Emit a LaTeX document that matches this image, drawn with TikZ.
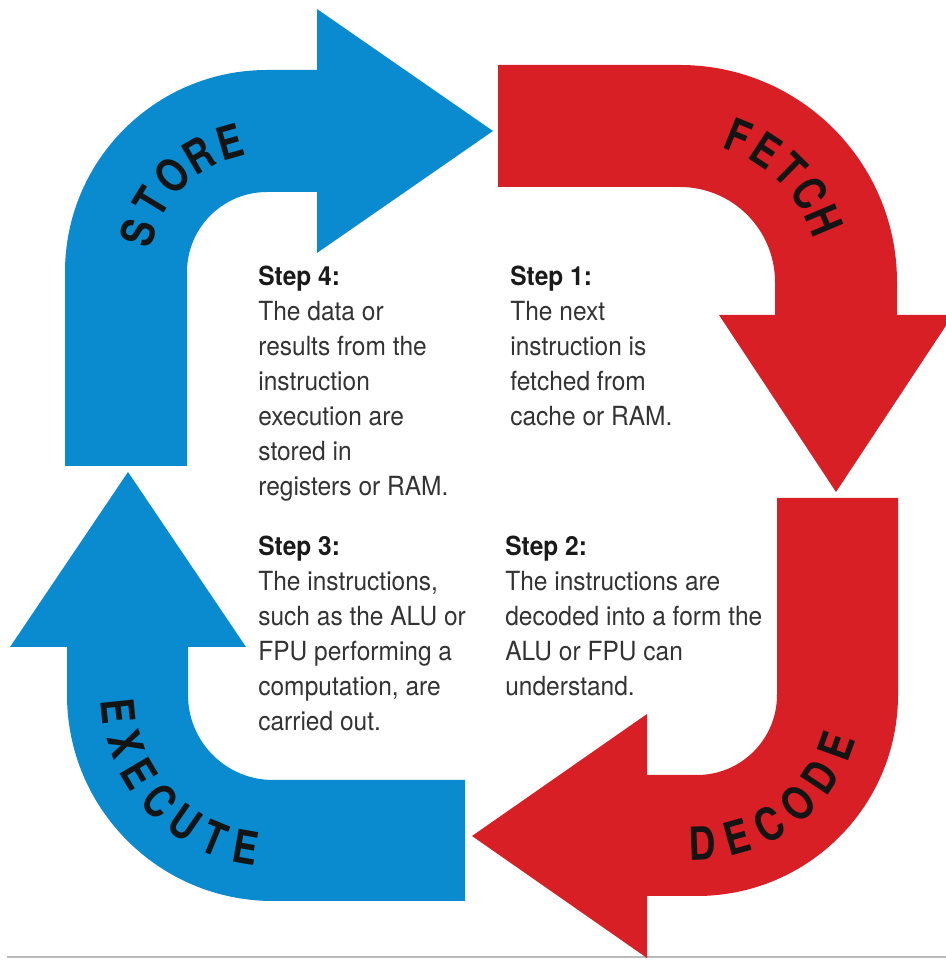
\documentclass[tikz,border=0pt]{standalone}
\usepackage{fontspec}
\setmainfont{TeX Gyre Heros}
\newfontfamily\notefont{TeX Gyre Heros}[FakeStretch=0.93]
\newfontfamily\stagefont{TeX Gyre Heros}[FakeStretch=0.82]
\usepackage{tikz}
\usetikzlibrary{positioning}
\definecolor{cycBlue}{HTML}{0A8BD0}
\definecolor{cycRed}{HTML}{D91F26}
\definecolor{cycInk}{HTML}{333333}
\definecolor{cycHead}{HTML}{1A1A1A}

\begin{document}
\begin{tikzpicture}[x=0.02cm,y=0.02cm,
    stagelbl/.style={font=\stagefont\fontsize{26}{26}\selectfont\bfseries,text=black!92,inner sep=0pt},
    stepnote/.style={font=\notefont\fontsize{15}{19.9}\selectfont,text=cycInk,align=left,anchor=north west,inner sep=0pt}]
    \useasboundingbox (0,0) rectangle (946,961);
    \draw[gray!55,line width=1.2pt] (7,4)--(946,4);
    % store
    \fill[cycBlue] (65,495)--(65,689) arc[start angle=180,end angle=90,radius=202]--(317,891)--(317,952)
      --(493,830)--(317,708)--(317,769)--(267,769) arc[start angle=90,end angle=180,radius=80]--(187,495)--cycle;
    % fetch
    \fill[cycRed] (498,774)--(498,896)--(680,896) arc[start angle=90,end angle=0,radius=217]--(897,646)--(953,646)
      --(836,469)--(719,646)--(775,646)--(775,679) arc[start angle=0,end angle=90,radius=95]--cycle;
    % decode
    \fill[cycRed] (777,463)--(898,463)--(898,266) arc[start angle=0,end angle=-90,radius=201]--(647,65)--(647,3)
      --(472,125)--(647,247)--(647,186)--(697,186) arc[start angle=-90,end angle=0,radius=80]--cycle;
    % execute
    \fill[cycBlue] (465,181)--(465,60)--(273,60) arc[start angle=-90,end angle=-180,radius=206]--(67,314)--(10,314)
      --(128,489)--(246,314)--(188,314)--(188,266) arc[start angle=180,end angle=270,radius=85]--cycle;

    \foreach \ch [count=\i, evaluate=\i as \ang using 163-14.25*(\i-1)] in {S,T,O,R,E}
      \node[stagelbl,rotate=\ang-90] (store\i) at ([shift={(\ang:135)}]267,689) {\ch};
    \foreach \ch [count=\i, evaluate=\i as \ang using 68-11.25*(\i-1)] in {F,E,T,C,H}
      \node[stagelbl,rotate=\ang-90] (fetch\i) at ([shift={(\ang:157)}]680,679) {\ch};
    \foreach \ch [count=\i, evaluate=\i as \ang using -88+13.6*(\i-1)] in {D,E,C,O,D,E}
      \node[stagelbl,rotate=\ang+90] (decode\i) at ([shift={(\ang:148)}]697,266) {\ch};
    \foreach \ch [count=\i, evaluate=\i as \ang using 186+12.33*(\i-1)] in {E,X,E,C,U,T,E}
      \node[stagelbl,rotate=\ang+90] (execute\i) at ([shift={(\ang:155)}]273,266) {\ch};

    \node[stepnote] (step4) at (258,695) {{\color{cycHead}\bfseries Step 4:}\\The data or\\results from the\\instruction\\execution are\\stored in\\registers or RAM.};
    \node[stepnote] (step1) at (510,695) {{\color{cycHead}\bfseries Step 1:}\\The next\\instruction is\\fetched from\\cache or RAM.};
    \node[stepnote] (step3) at (258,425) {{\color{cycHead}\bfseries Step 3:}\\The instructions,\\such as the ALU or\\FPU performing a\\computation, are\\carried out.};
    \node[stepnote] (step2) at (505,425) {{\color{cycHead}\bfseries Step 2:}\\The instructions are\\decoded into a form the\\ALU or FPU can\\understand.};
  \end{tikzpicture}
\end{document}
